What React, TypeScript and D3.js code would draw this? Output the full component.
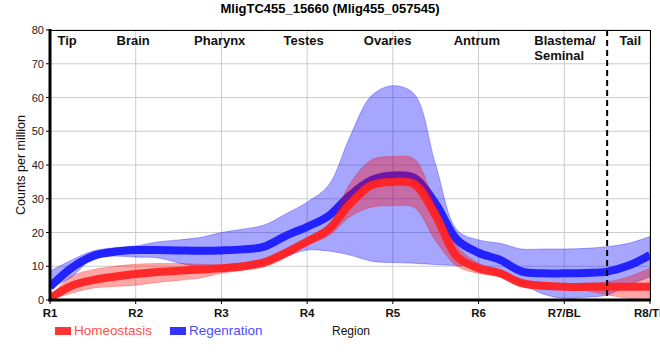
import React from "react";
import * as d3 from "d3";

const title = "MligTC455_15660 (Mlig455_057545)";
const regionTicks = ["R1", "R2", "R3", "R4", "R5", "R6", "R7/BL", "R8/TL"];
const yTicks = [0, 10, 20, 30, 40, 50, 60, 70, 80];
const sectionLabels = ["Tip", "Brain", "Pharynx", "Testes", "Ovaries", "Antrum", "Blastema/\nSeminal", "Tail"];
const sectionAt = [0.2, 0.97, 1.98, 2.96, 3.94, 4.98, 5.65, 6.77];
const sectionAnchor = ["middle", "middle", "middle", "middle", "middle", "middle", "start", "middle"];
const dashedAt = 6.5;

// sample positions (region index)
const positions = [0, 0.25, 0.5, 0.75, 1, 1.25, 1.5, 1.75, 2, 2.25, 2.5, 2.75, 3, 3.25, 3.5, 3.75, 4, 4.25, 4.5, 4.75, 5, 5.25, 5.5, 5.75, 6, 6.25, 6.5, 6.75, 7];

const homeoMean = [0.5, 4.2, 5.9, 6.9, 7.7, 8.3, 8.7, 9.0, 9.4, 10.0, 11.2, 14.0, 17.3, 21.0, 28.5, 34.0, 35.0, 34.3, 25.0, 12.8, 9.4, 7.9, 5.0, 4.2, 3.9, 3.9, 3.9, 3.9, 3.9];
const homeoUpper = [1.0, 7.0, 9.0, 10.0, 10.6, 10.8, 10.8, 10.6, 10.4, 11.0, 12.3, 15.0, 18.3, 22.0, 34.5, 41.5, 42.5, 41.8, 28.0, 16.0, 10.9, 9.0, 6.2, 5.2, 4.9, 5.0, 5.4, 6.9, 9.4];
const homeoLower = [0.0, 2.0, 3.5, 4.0, 4.4, 5.2, 5.8, 6.5, 7.9, 8.8, 9.8, 12.5, 16.3, 19.0, 24.7, 27.5, 27.9, 27.4, 17.5, 10.0, 7.9, 7.0, 4.4, 3.8, 3.5, 2.8, 1.5, 0.5, 0.0];

const regenMean = [3.9, 9.5, 13.0, 14.3, 14.8, 14.8, 14.7, 14.6, 14.7, 15.0, 15.8, 19.0, 21.7, 24.9, 31.0, 35.5, 36.9, 36.2, 28.5, 17.8, 14.0, 11.9, 8.5, 7.9, 7.9, 8.0, 8.4, 10.2, 13.3];
const regenUpper = [8.6, 11.8, 14.5, 15.5, 16.0, 17.2, 17.8, 18.5, 20.0, 21.0, 22.2, 25.5, 29.0, 34.0, 48.4, 60.5, 63.5, 61.0, 40.0, 20.7, 17.8, 16.8, 15.1, 15.1, 15.1, 15.3, 15.8, 16.8, 18.8];
const regenLower = [3.5, 6.8, 12.3, 13.0, 12.7, 12.5, 11.0, 9.7, 9.0, 9.5, 10.5, 12.8, 14.8, 14.5, 13.3, 11.5, 11.1, 10.9, 10.5, 10.2, 9.9, 7.0, 4.9, 1.8, 0.5, 0.8, 1.5, 4.4, 6.9];

const legendNames = ["Homeostasis", "Regenration"];

const FONT = "'Liberation Sans', Arial, sans-serif";

export default function App() {
  const W = 660, H = 360;
  const left = 50, right = 650, top = 30, bottom = 300;
  const x = d3.scaleLinear().domain([0, 7]).range([left, right]);
  const y = d3.scaleLinear().domain([0, 80]).range([bottom, top]);

  const idx = positions.map((_, i) => i);
  const curve = d3.curveCatmullRom.alpha(0.5);
  const area = (lo: number[], hi: number[]) =>
    d3.area<number>()
      .x((i) => x(positions[i]))
      .y0((i) => y(lo[i]))
      .y1((i) => y(hi[i]))
      .curve(curve)(idx) || "";
  const line = (v: number[]) =>
    d3.line<number>()
      .x((i) => x(positions[i]))
      .y((i) => y(v[i]))
      .curve(curve)(idx) || "";

  const blue = "#2222ff";
  const red = "#ff2222";

  return (
    <svg width={W} height={H} style={{ position: "absolute", left: 0, top: 0, fontFamily: FONT }}>
      <rect x={0} y={0} width={W} height={H} fill="#fff" />
      <defs>
        <clipPath id="plotClip">
          <rect x={left} y={top} width={right - left} height={bottom - top} />
        </clipPath>
      </defs>
      <text x={330} y={13} textAnchor="middle" fontSize={13} fontWeight="bold" fill="#000">{title}</text>

      {/* grid */}
      {yTicks.map((t) => (
        <line key={"gy" + t} x1={left} x2={right} y1={y(t)} y2={y(t)} stroke="#cccccc" strokeWidth={1} />
      ))}
      {regionTicks.map((_, i) => (
        <line key={"gx" + i} x1={x(i)} x2={x(i)} y1={top} y2={bottom} stroke="#cccccc" strokeWidth={1} />
      ))}

      <g clipPath="url(#plotClip)">
        <path d={area(regenLower, regenUpper)} fill="rgba(0,0,255,0.35)" stroke="rgba(0,0,255,0.3)" strokeWidth={1} />
        <path d={line(regenMean)} fill="none" stroke={blue} strokeWidth={8} />
        <path d={area(homeoLower, homeoUpper)} fill="rgba(255,0,0,0.35)" stroke="rgba(255,0,0,0.25)" strokeWidth={1} />
        <path d={line(homeoMean)} fill="none" stroke={red} strokeOpacity={0.95} strokeWidth={8} />
      </g>

      {/* dashed boundary */}
      <line x1={x(dashedAt)} x2={x(dashedAt)} y1={top} y2={bottom} stroke="#000" strokeWidth={2} strokeDasharray="6,4" />

      {/* frame */}
      <line x1={left} x2={right} y1={top + 0.5} y2={top + 0.5} stroke="#000" strokeWidth={1} />
      <line x1={right + 0.5} x2={right + 0.5} y1={top} y2={bottom} stroke="#000" strokeWidth={1} />
      <line x1={left} x2={left} y1={top - 1} y2={bottom + 1.5} stroke="#000" strokeWidth={3} />
      <line x1={left - 1.5} x2={right + 1} y1={bottom} y2={bottom} stroke="#000" strokeWidth={3} />

      {/* y ticks */}
      {yTicks.map((t) => (
        <g key={"yt" + t}>
          <line x1={left - 4} x2={left} y1={y(t)} y2={y(t)} stroke="#000" strokeWidth={1} />
          <text x={44} y={y(t) + 4} textAnchor="end" fontSize={11} fill="#222">{t}</text>
        </g>
      ))}
      {/* x ticks */}
      {regionTicks.map((r, i) => (
        <g key={"xt" + i}>
          <line x1={x(i)} x2={x(i)} y1={bottom} y2={bottom + 4} stroke="#000" strokeWidth={1} />
          <text x={x(i)} y={317} textAnchor="middle" fontSize={11.5} fontWeight="bold" fill="#111">{r}</text>
        </g>
      ))}

      {/* section labels */}
      {sectionLabels.map((s, i) => (
        <text key={"sl" + i} x={x(sectionAt[i])} y={45} textAnchor={sectionAnchor[i] as any} fontSize={13} fontWeight="bold" fill="#111">
          {s.split("\n").map((part, j) => (
            <tspan key={j} x={x(sectionAt[i])} dy={j === 0 ? 0 : 14.5}>{part}</tspan>
          ))}
        </text>
      ))}

      {/* axis titles */}
      <text transform={`translate(25,${(top + bottom) / 2}) rotate(-90)`} textAnchor="middle" fontSize={12.5} fill="#111">Counts per million</text>
      <text x={351} y={335} textAnchor="middle" fontSize={12} fill="#111">Region</text>

      {/* legend */}
      <rect x={55} y={327} width={16} height={8} fill="#ff3333" />
      <text x={74} y={335} fontSize={13.5} fill="#ff4d4d">{legendNames[0]}</text>
      <rect x={170} y={327} width={16} height={8} fill="#3333ff" />
      <text x={189} y={335} fontSize={13.5} fill="#4d4dff">{legendNames[1]}</text>
    </svg>
  );
}
